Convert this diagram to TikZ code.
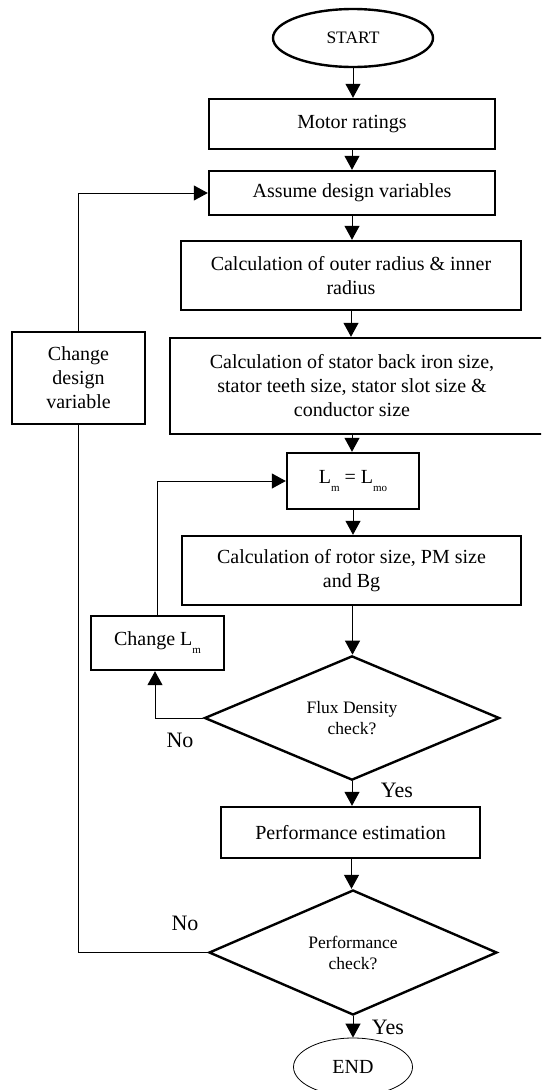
\documentclass[tikz,border=0pt]{standalone}
\usepackage{fontspec}
\setmainfont{Liberation Serif}
\usetikzlibrary{shapes.geometric,arrows.meta,calc}
\newcommand\lsub[1]{\raisebox{-8pt}{\fontsize{11}{11}\selectfont #1}}
\tikzset{
  box/.style={draw, line width=2.4pt, rectangle, align=center, inner sep=2pt,
    font=\fontsize{20}{24}\selectfont},
  dec/.style={draw, line width=2.4pt, diamond, align=center, inner sep=0pt,
    font=\fontsize{17.5}{21}\selectfont},
  term/.style={draw, ellipse, inner sep=0pt, fill=white},
  arr/.style={line width=1pt, -{Triangle[length=14pt,width=15pt]}},
  conn/.style={line width=1pt},
  lab/.style={font=\fontsize{22}{22}\selectfont}
}
\begin{document}
\begin{tikzpicture}[x=1pt,y=-1pt]
\useasboundingbox (0,0) rectangle (541,1090);
\clip (0,0) rectangle (541,1090);

\node[term, line width=2.4pt, minimum width=160, minimum height=58,
  font=\fontsize{17.5}{21}\selectfont] (start) at (353,38) {START};
\node[box, minimum width=286, minimum height=50] (motor) at (352,124) {Motor ratings};
\node[box, minimum width=286, minimum height=44] (assume) at (352,193) {Assume design variables};
\node[box, minimum width=340, minimum height=69] (outer) at (351,275.5)
  {Calculation of outer radius \& inner\\radius};
\node[box, minimum width=375, minimum height=96] (stator) at (357.5,386)
  {\hspace*{-11pt}Calculation of stator back iron size,\\\hspace*{-11pt}stator teeth size, stator slot size \&\\\hspace*{-11pt}conductor size};
\node[box, minimum width=132, minimum height=56] (lm) at (353,481)
  {L\lsub{m} = L\lsub{mo}};
\node[box, minimum width=339, minimum height=69] (rotor) at (351.5,570.5)
  {Calculation of rotor size, PM size\\and Bg};
\node[box, minimum width=133, minimum height=54] (changelm) at (157.5,643)
  {Change L\lsub{m}};
\node[dec, minimum width=295, minimum height=121] (flux) at (352,718)
  {Flux Density\\check?};
\node[box, minimum width=259, minimum height=51] (perf) at (350.5,832.5)
  {Performance estimation};
\node[dec, minimum width=288, minimum height=125] (pcheck) at (353,952.5)
  {Performance\\check?};
\node[box, minimum width=133, minimum height=92] (cdv) at (78.5,378)
  {Change\\design\\variable};

% labels
\node[lab] (no1) at (180,740) {No};
\node[lab] (yes1) at (397,790) {Yes};
\node[lab] (no2) at (185,923) {No};
\node[lab] (yes2) at (388,1027) {Yes};

% main flow
\draw[arr] (start.south) -- (start.south |- motor.north);
\draw[arr] (motor.south) -- (motor.south |- assume.north);
\draw[arr] (assume.south) -- (assume.south |- outer.north);
\draw[arr] (outer.south) -- (outer.south |- stator.north);
\draw[arr] ([xshift=-5.5pt]stator.south) -- ([xshift=-5.5pt]stator.south |- lm.north);
\draw[arr] (lm.south) -- (lm.south |- rotor.north);
\draw[arr] ([xshift=1pt]rotor.south) -- ([xshift=1pt]rotor.south |- flux.north);
\draw[arr] (flux.south) -- (flux.south |- perf.north);
\draw[arr] ([xshift=1pt]perf.south) -- ([xshift=1pt]perf.south |- pcheck.north);

% flux loop
\draw[arr] (flux.west) -| ([xshift=-2.5pt]changelm.south);
\draw[arr] (changelm.north) |- (lm.west);

% performance loop
\draw[conn] (pcheck.west) -| ([xshift=-0.5pt]cdv.south);
\draw[arr] ([xshift=-0.5pt]cdv.north) |- (assume.west);

% end
\node[term, line width=0.8pt, minimum width=119, minimum height=58,
  font=\fontsize{20}{24}\selectfont] (end) at (353,1067) {END};
\draw[arr] (pcheck.south) -- (pcheck.south |- end.north);
\end{tikzpicture}
\end{document}
